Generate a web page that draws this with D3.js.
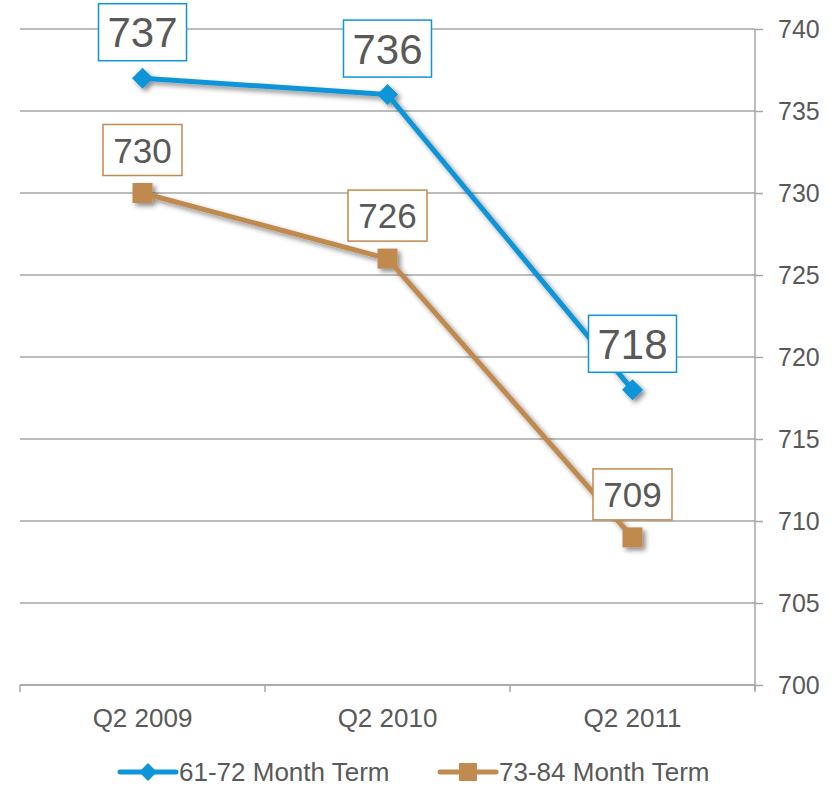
<!DOCTYPE html>
<html>
<head>
<meta charset="utf-8">
<script src="https://cdn.jsdelivr.net/npm/d3@7"></script>
<style>
  body { margin: 0; background: #fff; }
  svg { display: block; font-family: "Liberation Sans", Arial, sans-serif; }
</style>
</head>
<body>
<svg id="chart" width="840" height="786"></svg>
<script>
// data
const quarters = ["Q2 2009", "Q2 2010", "Q2 2011"];
const term6172 = [737, 736, 718];
const term7384 = [730, 726, 709];
const yTicks = [700, 705, 710, 715, 720, 725, 730, 735, 740];
const seriesNames = ["61-72 Month Term", "73-84 Month Term"];

const blue = "#0e95d8";
const brown = "#c08a50";
const textColor = "#595959";
const gridColor = "#a6a6a6";

const svg = d3.select("#chart");
const margin = { top: 29, right: 85, bottom: 101, left: 20 };
const width = 840 - margin.left - margin.right;
const height = 786 - margin.top - margin.bottom;

const defs = svg.append("defs");
defs.append("filter")
    .attr("id", "shadow")
    .attr("x", "-20%").attr("y", "-20%")
    .attr("width", "140%").attr("height", "140%")
    .append("feDropShadow")
    .attr("dx", 3).attr("dy", 3)
    .attr("stdDeviation", 2.5)
    .attr("flood-color", "#000")
    .attr("flood-opacity", 0.45);

const g = svg.append("g").attr("transform", `translate(${margin.left},${margin.top})`);

const x = d3.scaleBand().domain(quarters).range([0, width]);
const y = d3.scaleLinear().domain([700, 740]).range([height, 0]);

// gridlines
g.selectAll("line.grid")
    .data(yTicks)
    .enter()
    .append("line")
    .attr("class", "grid")
    .attr("x1", 0)
    .attr("x2", width)
    .attr("y1", d => y(d))
    .attr("y2", d => y(d))
    .attr("stroke", gridColor)
    .attr("stroke-width", 1.5);

// right axis
const yAxis = g.append("g")
    .attr("transform", `translate(${width},0)`)
    .call(d3.axisRight(y).tickValues(yTicks).tickSize(8).tickPadding(15));
yAxis.select(".domain").attr("stroke", gridColor).attr("stroke-width", 1.5)
    .attr("d", `M0,0V${height + 5}`);
yAxis.selectAll(".tick line").attr("stroke", gridColor).attr("stroke-width", 1.5);
yAxis.selectAll(".tick text")
    .attr("fill", textColor)
    .style("font-size", "25px");

// bottom axis
const xAxis = g.append("g").attr("transform", `translate(0,${height})`);
xAxis.append("line")
    .attr("x1", 0).attr("x2", width)
    .attr("stroke", gridColor).attr("stroke-width", 1.5);
const bounds = [0].concat(quarters.map(q => x(q) + x.bandwidth()));
xAxis.selectAll("line.tick")
    .data(bounds)
    .enter()
    .append("line")
    .attr("class", "tick")
    .attr("x1", d => d).attr("x2", d => d)
    .attr("y1", 0).attr("y2", 7)
    .attr("stroke", gridColor).attr("stroke-width", 1.5);
xAxis.selectAll("text")
    .data(quarters)
    .enter()
    .append("text")
    .attr("x", d => x(d) + x.bandwidth() / 2)
    .attr("y", 42)
    .attr("text-anchor", "middle")
    .attr("fill", textColor)
    .style("font-size", "26px")
    .text(d => d);

const cx = q => x(q) + x.bandwidth() / 2;
const line = d3.line().x((d, i) => cx(quarters[i])).y(d => y(d));

const series = [
    { name: seriesNames[0], values: term6172, color: blue, marker: "diamond", font: 42, boxW: 88, boxH: 57, off: 46 },
    { name: seriesNames[1], values: term7384, color: brown, marker: "square", font: 35, boxW: 79, boxH: 51, off: 43 }
];

const markerPath = (type, s) => type === "diamond"
    ? `M0,${-s}L${s},0L0,${s}L${-s},0Z`
    : `M${-s},${-s}H${s}V${s}H${-s}Z`;

// draw brown first so blue sits on top
series.slice().reverse().forEach(s => {
    const sg = g.append("g").attr("filter", "url(#shadow)");
    sg.append("path")
        .datum(s.values)
        .attr("d", line)
        .attr("fill", "none")
        .attr("stroke", s.color)
        .attr("stroke-width", 5)
        .attr("stroke-linejoin", "round");
    sg.selectAll("path.mk")
        .data(s.values)
        .enter()
        .append("path")
        .attr("class", "mk")
        .attr("transform", (d, i) => `translate(${cx(quarters[i])},${y(d)})`)
        .attr("d", markerPath(s.marker, s.marker === "diamond" ? 10.5 : 10))
        .attr("fill", s.color);
});

// data labels
series.forEach(s => {
    const lg = g.selectAll(null)
        .data(s.values)
        .enter()
        .append("g")
        .attr("transform", (d, i) => `translate(${cx(quarters[i])},${y(d) - s.off})`);
    lg.append("rect")
        .attr("x", -s.boxW / 2)
        .attr("y", -s.boxH / 2)
        .attr("width", s.boxW)
        .attr("height", s.boxH)
        .attr("fill", "#fff")
        .attr("stroke", s.color)
        .attr("stroke-width", 1.5);
    lg.append("text")
        .attr("text-anchor", "middle")
        .attr("dy", "0.36em")
        .attr("fill", textColor)
        .style("font-size", s.font + "px")
        .text(d => d);
});

// legend
const legend = svg.append("g").attr("transform", "translate(0,772)");
const legendX = [120, 440];
series.forEach((s, i) => {
    const lx = legendX[i];
    legend.append("line")
        .attr("x1", lx).attr("x2", lx + 56)
        .attr("stroke", s.color)
        .attr("stroke-width", 5)
        .attr("stroke-linecap", "round");
    legend.append("path")
        .attr("transform", `translate(${lx + 28},0)`)
        .attr("d", markerPath(s.marker, 9))
        .attr("fill", s.color);
    legend.append("text")
        .attr("x", lx + 59)
        .attr("dy", "0.36em")
        .attr("fill", textColor)
        .style("font-size", "26px")
        .text(s.name);
});
</script>
</body>
</html>
